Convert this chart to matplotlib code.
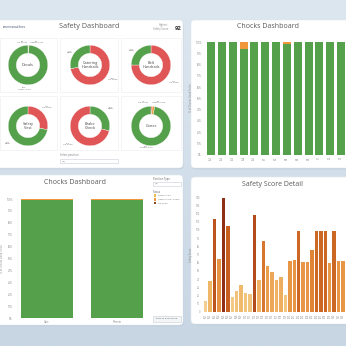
import numpy as np
import matplotlib
matplotlib.use("Agg")
import matplotlib.pyplot as plt
from matplotlib.patches import FancyBboxPatch, Rectangle
from matplotlib.colors import LinearSegmentedColormap, Normalize

# ---------------- data ----------------
donut_names = ["Decals", "Catering\nHandrails", "Belt\nHandrails",
               "Safety\nVest", "Brake\nCheck", "Cones"]
# slices clockwise from 12 o'clock
decals_vals = [0.4, 0.4, 99.2]
decals_cols = ["orange", "red", "green"]
catering_vals = [72, 28]
catering_cols = ["red", "green"]
belt_vals = [75, 25]
belt_cols = ["red", "green"]
vest_vals = [28, 72]
vest_cols = ["red", "green"]
brake_vals = [29, 71]
brake_cols = ["green", "red"]
cones_vals = [1, 2, 97]
cones_cols = ["red", "orange", "green"]
highest_score = 92

chock_gates = ["A1", "A2", "A3", "A4", "A5", "B1", "B2", "B3", "B4", "B5", "C1", "C2", "C3"]
chock_good = [100, 100, 100, 94, 100, 100, 100, 98, 100, 100, 100, 100, 100]
chock_needs = [0, 0, 0, 6, 0, 0, 0, 2, 0, 0, 0, 0, 0]

pos_types = ["Gate", "Remote"]
pos_good = [99.4, 99.4]
pos_needs = [0.6, 0.6]

score_labels = ["S%02d" % i for i in range(1, 33)]
score_vals = [13, 37, 113, 64, 139, 105, 18, 25, 33, 23, 22, 118, 39, 87, 56, 48,
              39, 42, 21, 62, 63, 99, 61, 61, 76, 99, 99, 99, 60, 99, 62, 62]

# ---------------- style ----------------
GREEN = "#55a04b"
RED = "#e05555"
ORANGE = "#f0963c"
cmap_col = {"green": GREEN, "red": RED, "orange": ORANGE}
TXT = "#5a5a5a"
W = H = 346.0

plt.rcParams['font.family'] = ['Open Sans', 'DejaVu Sans']

fig = plt.figure(figsize=(3.46, 3.46), dpi=100)

# background gradient
bg = fig.add_axes([0, 0, 1, 1])
grad = np.linspace(0, 1, 256).reshape(-1, 1)
bgcmap = LinearSegmentedColormap.from_list("bg", ["#dde7f0", "#c8d6e4"])
bg.imshow(grad, aspect="auto", cmap=bgcmap, extent=[0, 1, 0, 1], origin="upper")
bg.set_xlim(0, 1); bg.set_ylim(0, 1); bg.axis("off")


def fr(x0, y0, x1, y1):
    return [x0 / W, 1 - y1 / H, (x1 - x0) / W, (y1 - y0) / H]


def panel(x0, y0, x1, y1, r=4):
    sh = FancyBboxPatch((x0 / W + 0.002, 1 - y1 / H - 0.004), (x1 - x0) / W, (y1 - y0) / H,
                        boxstyle="round,pad=0,rounding_size=%f" % (r / W),
                        transform=fig.transFigure, fc="#b4c3d2", ec="none", alpha=0.5, zorder=1)
    p = FancyBboxPatch((x0 / W, 1 - y1 / H), (x1 - x0) / W, (y1 - y0) / H,
                       boxstyle="round,pad=0,rounding_size=%f" % (r / W),
                       transform=fig.transFigure, fc="white", ec="#e4e9ee", lw=0.4, zorder=2)
    fig.patches.extend([sh, p])


def ftext(x, y, s, **kw):
    fig.text(x / W, 1 - y / H, s, **kw)


def box(x0, y0, x1, y1, ec="#dde2e7", fc="white", lw=0.4):
    fig.patches.append(Rectangle((x0 / W, 1 - y1 / H), (x1 - x0) / W, (y1 - y0) / H,
                                 transform=fig.transFigure, fc=fc, ec=ec, lw=lw, zorder=3))


# ---------------- panels ----------------
panel(-6, 20, 183, 168)
panel(191, 20, 352, 168)
panel(-6, 175, 183, 325)
panel(191, 177, 352, 324)

# ---------------- top-left: Safety Dashboard ----------------
ftext(3, 27, "americanairlines", fontsize=2.2, color="#3a4a6a", va="center", zorder=5)
ftext(89, 27, "Safety Dashboard", fontsize=5.2, color=TXT, ha="center", va="center", zorder=5)
ftext(168, 27, "Highest\nSafety Score", fontsize=1.9, color="#888", ha="right", va="center",
      linespacing=1.3, zorder=5)
ftext(178, 28, str(highest_score), fontsize=4.2, color="#333", ha="center", va="center",
      fontweight="bold", zorder=5)

cells = [(0, 38, 57, 92), (60, 38, 118, 92), (121, 38, 181, 92),
         (0, 96, 57, 150), (60, 96, 118, 150), (121, 96, 181, 150)]
for c in cells:
    box(*c, ec="#e9ecef")

donut_vals = [decals_vals, catering_vals, belt_vals, vest_vals, brake_vals, cones_vals]
donut_cols = [decals_cols, catering_cols, belt_cols, vest_cols, brake_cols, cones_cols]
centers = [(28, 65), (90, 65), (151, 65), (28, 126), (90, 126), (151, 126)]
R = 20.0
lab_sets = [
    [((22, 42), "0%\nNo Check"), ((36, 42), "0%\nNeeds Work"), ((24, 88.5), "99%\nGood To Go")],
    [((70, 52), "28%\nGood"), ((113, 79), "72%\nNo Good")],
    [((132, 50), "25%\nGood"), ((174, 82), "75%\nNo Good")],
    [((47, 107), "28%\nNo Good"), ((8, 143), "72%\nGood")],
    [((111, 108), "29%\nGood"), ((68, 144), "71%\nNo Good")],
    [((143, 102), "1%\nNo Check"), ((158, 102), "2%\nNeeds Work"), ((146, 147), "97%\nGood To Go")],
]
for i in range(6):
    cx, cy = centers[i]
    ax = fig.add_axes(fr(cx - R, cy - R, cx + R, cy + R))
    ax.set_zorder(6)
    ax.pie(donut_vals[i], colors=[cmap_col[c] for c in donut_cols[i]], startangle=90,
           counterclock=False, wedgeprops=dict(width=0.41, edgecolor="white", linewidth=0.25))
    ax.set_xlim(-1.01, 1.01)
    ax.set_ylim(-1.01, 1.01)
    ax.set_aspect("equal")
    ax.text(0, 0, donut_names[i], ha="center", va="center", fontsize=2.8, color="#444",
            linespacing=1.2)
    for (lx, ly), s in lab_sets[i]:
        ftext(lx, ly, s, fontsize=1.6, color="#666", ha="center", va="center",
              linespacing=1.2, zorder=7)

ftext(60, 155, "Select position", fontsize=1.9, color="#777", va="center", zorder=5)
box(60, 158.5, 118, 163, ec="#c9ced4")
ftext(62, 160.8, "(All)", fontsize=1.7, color="#777", va="center", zorder=5)


def style_axes(ax):
    for s in ax.spines.values():
        s.set_visible(False)
    ax.tick_params(length=0, labelsize=1.8, labelcolor="#888", pad=1.5)
    ax.set_facecolor("none")


# ---------------- top-right: Chocks Dashboard ----------------
ftext(268, 27, "Chocks Dashboard", fontsize=5.0, color=TXT, ha="center", va="center", zorder=5)
ax2 = fig.add_axes(fr(204, 41, 346, 154.5))
ax2.set_zorder(6)
x = np.arange(len(chock_gates))
ax2.bar(x, chock_good, width=0.74, color=GREEN)
ax2.bar(x, chock_needs, bottom=chock_good, width=0.74, color=ORANGE)
ax2.set_xlim(-0.65, 12.46)
ax2.set_ylim(0, 101)
ax2.set_yticks(np.arange(0, 101, 10))
ax2.set_yticklabels(["%d%%" % v for v in range(0, 101, 10)])
ax2.set_xticks(x)
ax2.set_xticklabels(chock_gates, rotation=90)
ax2.set_ylabel("% of Chocks Good To Go", fontsize=1.8, color="#888", labelpad=2)
style_axes(ax2)

# ---------------- bottom-left: Chocks Dashboard ----------------
ftext(75, 183, "Chocks Dashboard", fontsize=5.0, color=TXT, ha="center", va="center", zorder=5)
ax3 = fig.add_axes(fr(15, 198.5, 150, 318))
ax3.set_zorder(6)
xp = np.arange(len(pos_types))
ax3.bar(xp, pos_good, width=0.74, color=GREEN)
ax3.bar(xp, pos_needs, bottom=pos_good, width=0.74, color=ORANGE)
ax3.set_xlim(-0.457, 1.47)
ax3.set_ylim(0, 100.5)
ax3.set_yticks(np.arange(0, 101, 10))
ax3.set_yticklabels(["%d%%" % v for v in range(0, 101, 10)])
ax3.set_xticks(xp)
ax3.set_xticklabels(pos_types)
ax3.set_ylabel("% of Chocks Good To Go", fontsize=1.8, color="#888", labelpad=2)
style_axes(ax3)

ftext(153, 179, "Position Type", fontsize=1.9, color="#555", va="center", zorder=5)
box(153, 181.5, 181, 185.5, ec="#c9ced4")
ftext(155, 183.5, "(All)", fontsize=1.6, color="#777", va="center", zorder=5)
ftext(153, 192, "Status", fontsize=1.9, color="#555", va="center", zorder=5)
leg_items = [("Good To Go", "#e8b84a"), ("Needs Work / Check", ORANGE), ("No Good", "#8a4a2a")]
for k, (lab, col) in enumerate(leg_items):
    yy = 195.5 + k * 3.8
    box(154, yy - 1.2, 156.4, yy + 1.2, ec="none", fc=col)
    ftext(158, yy, lab, fontsize=1.6, color="#666", va="center", zorder=5)
box(153, 315.5, 181, 322, ec="#c9ced4", fc="#f4f5f6")
ftext(167, 318.8, "Back to Dashboard", fontsize=1.7, color="#555", ha="center", va="center", zorder=5)

# ---------------- bottom-right: Safety Score Detail ----------------
ftext(272, 185, "Safety Score Detail", fontsize=5.0, color=TXT, ha="center", va="center", zorder=5)
ax4 = fig.add_axes(fr(202, 197.3, 346, 311.7))
ax4.set_zorder(6)
xs = np.arange(len(score_vals))
scmap = LinearSegmentedColormap.from_list("sc", ["#f6dba4", "#f0b868", "#e48c3c", "#c9601f", "#8e2f17"])
norm = Normalize(0, 140)
ax4.bar(xs, score_vals, width=0.78, color=[scmap(norm(v)) for v in score_vals])
ax4.set_xlim(-0.83, 31.67)
ax4.set_ylim(0, 140)
ax4.set_yticks(np.arange(0, 141, 10))
ax4.set_xticks(xs)
ax4.set_xticklabels(score_labels, rotation=90)
ax4.set_ylabel("Safety Score", fontsize=1.8, color="#888", labelpad=2)
style_axes(ax4)

fig.savefig("out.png", dpi=100)
